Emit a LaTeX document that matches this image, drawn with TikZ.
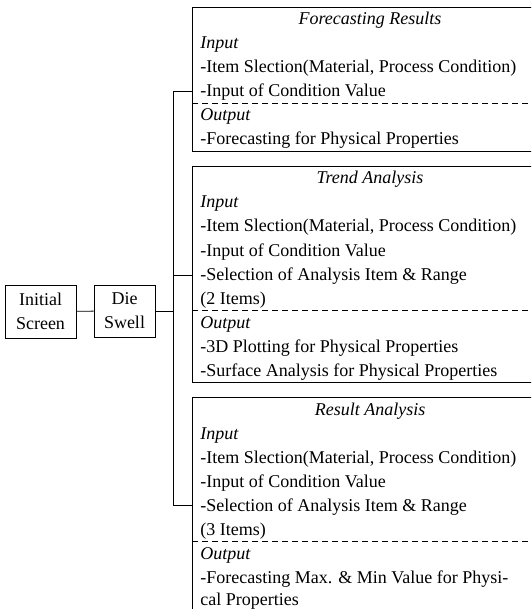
\documentclass[tikz,border=0pt]{standalone}
\usepackage{fontspec}
\setmainfont{Liberation Serif}
\begin{document}
\begin{tikzpicture}[x=1pt,y=-1pt, line width=0.9pt,
  every node/.style={font=\fontsize{18}{24}\selectfont},
  panel/.style={draw, rectangle, anchor=north west, minimum width=356pt, inner sep=0pt},
  menubox/.style={draw, rectangle, align=center, inner sep=0pt},
  txt/.style={anchor=base west, inner sep=0pt},
  ttl/.style={anchor=base, inner sep=0pt, font=\fontsize{18}{24}\selectfont\itshape},
  sep/.style={dash pattern=on 6pt off 4pt, line width=0.6pt}]
\useasboundingbox (0,0) rectangle (531,609);
\clip (0,0) rectangle (531,609);

% left menu boxes
\node[menubox, minimum width=71pt, minimum height=53pt] (init) at (40.5,311.5) {Initial\\Screen};
\node[menubox, minimum width=61pt, minimum height=52pt] (ds) at (124.5,311) {Die\\Swell};

% panel 1
\node[panel, minimum height=144pt] (b1) at (192,7) {};
\node[ttl] (t1) at (370,25) {Forecasting Results};
\node[txt] (b1a) at (200,49) {\itshape Input};
\node[txt] (b1b) at (200,73) {-Item Slection(Material, Process Condition)};
\node[txt] (b1c) at (200,97) {-Input of Condition Value};
\node[txt] (b1d) at (200,121) {\itshape Output};
\node[txt] (b1e) at (200,145) {-Forecasting for Physical Properties};
\coordinate (d1) at (192,103);
\draw[sep] (d1) -- (d1 -| b1.east);

% panel 2
\node[panel, minimum height=216pt] (b2) at (192,166) {};
\node[ttl] (t2) at (370,184) {Trend Analysis};
\node[txt] (b2a) at (200,208) {\itshape Input};
\node[txt] (b2b) at (200,232) {-Item Slection(Material, Process Condition)};
\node[txt] (b2c) at (200,256) {-Input of Condition Value};
\node[txt] (b2d) at (200,280) {-Selection of Analysis Item \& Range};
\node[txt] (b2e) at (200,304) {(2 Items)};
\node[txt] (b2f) at (200,328) {\itshape Output};
\node[txt] (b2g) at (200,352) {-3D Plotting for Physical Properties};
\node[txt] (b2h) at (200,376) {-Surface Analysis for Physical Properties};
\coordinate (d2) at (192,310);
\draw[sep] (d2) -- (d2 -| b2.east);

% panel 3
\node[panel, minimum height=216pt] (b3) at (192,397) {};
\node[ttl] (t3) at (370,415) {Result Analysis};
\node[txt] (b3a) at (200,439) {\itshape Input};
\node[txt] (b3b) at (200,463) {-Item Slection(Material, Process Condition)};
\node[txt] (b3c) at (200,487) {-Input of Condition Value};
\node[txt] (b3d) at (200,511) {-Selection of Analysis Item \& Range};
\node[txt] (b3e) at (200,535) {(3 Items)};
\node[txt] (b3f) at (200,559) {\itshape Output};
\node[txt] (b3g) at (200,583) {-Forecasting Max. \& Min Value for Physi-};
\node[txt] (b3h) at (200,605) {cal Properties};
\coordinate (d3) at (192,541);
\draw[sep] (d3) -- (d3 -| b3.east);

% connectors
\coordinate (j1) at (173,91);
\coordinate (j2) at (173,275);
\coordinate (j3) at (173,505);
\draw (init) -- (ds);
\draw (ds.east) -- (ds.east -| j1);
\draw (j1) -- (j3);
\draw (j1) -- (j1 -| b1.west);
\draw (j2) -- (j2 -| b2.west);
\draw (j3) -- (j3 -| b3.west);
\end{tikzpicture}
\end{document}
